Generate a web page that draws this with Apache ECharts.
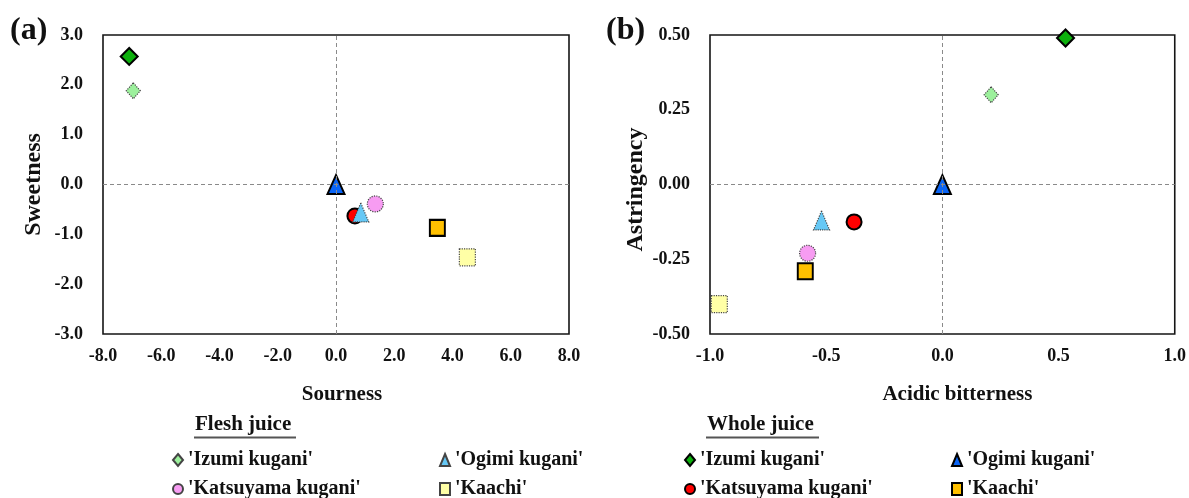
<!DOCTYPE html>
<html>
<head>
<meta charset="utf-8">
<title>Taste sensor PCA – kugani cultivars</title>
<script src="https://cdn.jsdelivr.net/npm/echarts@6/dist/echarts.min.js"></script>
<style>
  html, body { margin: 0; padding: 0; background: #fff; }
  #chart { width: 1189px; height: 498px; }
</style>
</head>
<body>
<div id="chart"></div>
<script>
// Cultivars (same order in every array below)
const cultivars = ["'Izumi kugani'", "'Ogimi kugani'", "'Katsuyama kugani'", "'Kaachi'"];

// (a) Sourness vs Sweetness
const fleshSourness  = [-6.96, 0.85, 1.35, 4.51];
const fleshSweetness = [1.88, -0.56, -0.39, -1.46];
const wholeSourness  = [-7.10, 0.00, 0.65, 3.48];
const wholeSweetness = [2.57, 0.00, -0.63, -0.87];

// (b) Acidic bitterness vs Astringency
const fleshAcidicBitterness = [0.21, -0.52, -0.58, -0.96];
const fleshAstringency      = [0.30, -0.12, -0.23, -0.40];
const wholeAcidicBitterness = [0.53, 0.00, -0.38, -0.59];
const wholeAstringency      = [0.49, 0.00, -0.125, -0.29];

// Axis ticks
const sournessTicks   = [-8, -6, -4, -2, 0, 2, 4, 6, 8];
const sweetnessTicks  = [-3, -2, -1, 0, 1, 2, 3];
const bitternessTicks = [-1, -0.5, 0, 0.5, 1];
const astringTicks    = [-0.5, -0.25, 0, 0.25, 0.5];

const groups = ['Flesh juice', 'Whole juice'];

// Marker styling per cultivar
const symbols = ['diamond', 'triangle', 'circle', 'rect'];
const fleshColors = ['#9CF09C', '#66C8F5', '#F79CF2', '#FFFFA6'];
const wholeColors = ['#0DB00D', '#0A64F5', '#FF0000', '#FFC000'];
const fleshSizes = [[14, 16], [16, 19], 16, [16, 17]];
const wholeSizes = [[17, 17], [17, 19], 15, [15, 16]];

const serif = 'Liberation Serif, Times New Roman, serif';
const ink = '#111';

function seriesFor(group, xs, ys, gridIdx) {
  const whole = group === groups[1];
  return cultivars.map((c, i) => ({
    type: 'scatter',
    name: group + '|' + c,
    xAxisIndex: gridIdx,
    yAxisIndex: gridIdx,
    data: [[xs[i], ys[i]]],
    symbol: symbols[i],
    symbolSize: (whole ? wholeSizes : fleshSizes)[i],
    itemStyle: whole
      ? { color: wholeColors[i], borderColor: '#000', borderWidth: 2, opacity: 1 }
      : { color: fleshColors[i], borderColor: '#444', borderWidth: 1.2, borderType: 'dotted', opacity: 1 },
    emphasis: { disabled: true },
    z: whole ? 3 : 4
  }));
}

// dashed lines through the origin
function originLines(gridIdx) {
  return {
    type: 'scatter',
    name: 'origin',
    xAxisIndex: gridIdx,
    yAxisIndex: gridIdx,
    data: [],
    silent: true,
    z: 1,
    markLine: {
      silent: true,
      symbol: ['none', 'none'],
      label: { show: false },
      animation: false,
      lineStyle: { type: [4, 3], color: '#8a8a8a', width: 1 },
      data: [{ xAxis: 0 }, { yAxis: 0 }]
    }
  };
}

function tickLabel(decimals, margin) {
  return {
    formatter: v => v.toFixed(decimals),
    margin: margin,
    fontFamily: serif, fontWeight: 'bold', fontSize: 18, color: ink
  };
}

function nameStyle(size, padding) {
  return { fontFamily: serif, fontWeight: 'bold', fontSize: size, color: ink, padding: padding };
}

function valueAxis(ticks, gridIdx, name, label, nameGap, nameTextStyle) {
  return {
    type: 'value',
    gridIndex: gridIdx,
    min: ticks[0],
    max: ticks[ticks.length - 1],
    interval: ticks[1] - ticks[0],
    axisLine: { show: false, onZero: false },
    axisTick: { show: false },
    splitLine: { show: false },
    axisLabel: label,
    name: name,
    nameLocation: 'middle',
    nameGap: nameGap,
    nameTextStyle: nameTextStyle
  };
}

const gridFrame = { show: true, borderColor: '#151515', borderWidth: 1.6, backgroundColor: 'transparent' };

const legendText = { fontFamily: serif, fontWeight: 'bold', fontSize: 20, color: ink, lineHeight: 20 };
function legendColumn(group, idxs, centerX) {
  return {
    orient: 'vertical',
    left: centerX - 5,
    top: 450,
    height: 80,
    padding: 0,
    itemGap: 9,
    itemWidth: 10,
    itemHeight: 12,
    selectedMode: false,
    data: idxs.map(i => ({ name: group + '|' + cultivars[i], icon: symbols[i] })),
    formatter: n => n.split('|')[1],
    textStyle: legendText
  };
}

const titleStyle = { fontFamily: serif, fontWeight: 'bold', color: ink };

const option = {
  animation: false,
  backgroundColor: '#fff',
  title: [
    { text: '(a)', left: 10, top: 15, padding: 0, textStyle: Object.assign({ fontSize: 32 }, titleStyle) },
    { text: '(b)', left: 606, top: 15, padding: 0, textStyle: Object.assign({ fontSize: 32 }, titleStyle) },
    { text: groups[0], left: 195, top: 414, padding: 0, textStyle: Object.assign({ fontSize: 21 }, titleStyle) },
    { text: groups[1], left: 707, top: 414, padding: 0, textStyle: Object.assign({ fontSize: 21 }, titleStyle) }
  ],
  graphic: [
    { type: 'line', shape: { x1: 194, y1: 437.5, x2: 296, y2: 437.5 }, style: { stroke: '#555', lineWidth: 2 } },
    { type: 'line', shape: { x1: 706, y1: 437.5, x2: 819, y2: 437.5 }, style: { stroke: '#555', lineWidth: 2 } }
  ],
  grid: [
    Object.assign({ left: 103, top: 35, width: 466, height: 299 }, gridFrame),
    Object.assign({ left: 710, top: 35, width: 467, height: 299 }, gridFrame)
  ],
  xAxis: [
    valueAxis(sournessTicks, 0, 'Sourness', tickLabel(1, 13), 50, nameStyle(21, [0, 0, 0, 12])),
    valueAxis(bitternessTicks, 1, 'Acidic bitterness', tickLabel(1, 13), 50, nameStyle(21, [0, 0, 0, 30]))
  ],
  yAxis: [
    valueAxis(sweetnessTicks, 0, 'Sweetness', tickLabel(1, 20), 57, nameStyle(24, [0, 0, 0, 0])),
    valueAxis(astringTicks, 1, 'Astringency', tickLabel(2, 20), 62, nameStyle(24, [0, 10, 0, 0]))
  ],
  legend: [
    legendColumn(groups[0], [0, 2], 177),
    legendColumn(groups[0], [1, 3], 444),
    legendColumn(groups[1], [0, 2], 689),
    legendColumn(groups[1], [1, 3], 956)
  ],
  series: [
    originLines(0),
    originLines(1),
    ...seriesFor(groups[1], wholeSourness, wholeSweetness, 0),
    ...seriesFor(groups[0], fleshSourness, fleshSweetness, 0),
    ...seriesFor(groups[1], wholeAcidicBitterness, wholeAstringency, 1),
    ...seriesFor(groups[0], fleshAcidicBitterness, fleshAstringency, 1)
  ]
};

const chart = echarts.init(document.getElementById('chart'), null, { renderer: 'canvas' });
chart.setOption(option);
</script>
</body>
</html>
